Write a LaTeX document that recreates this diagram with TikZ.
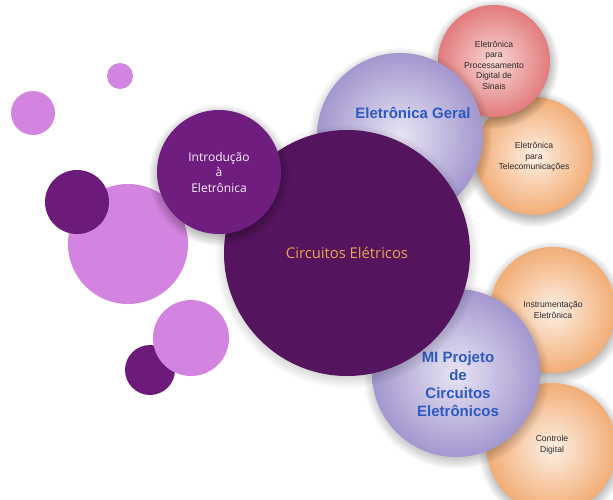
\documentclass[tikz,border=0pt]{standalone}
\usepackage{fontspec}
\setmainfont{Liberation Sans}
\newfontfamily\roundfont{Open Sans}
\usetikzlibrary{fadings}

\definecolor{lilac}{HTML}{D384E0}
\definecolor{plum}{HTML}{6C1B7B}
\definecolor{deepplum}{HTML}{55145E}
\definecolor{introplum}{HTML}{701D80}
\definecolor{lavedge}{HTML}{A397CF}
\definecolor{lavcore}{HTML}{E8E4F3}
\definecolor{rosedge}{HTML}{E27B7E}
\definecolor{roscore}{HTML}{F8D8D4}
\definecolor{peachedge}{HTML}{F2AD76}
\definecolor{peachcore}{HTML}{FDF0E4}
\definecolor{gerblue}{HTML}{2B5AC5}
\definecolor{amber}{HTML}{E9A44C}
\definecolor{inktext}{HTML}{2E2A2A}

% soft shadow under a bubble: centre x, centre y, radius
\newcommand\bubbleshade[3]{%
  \fill[black, opacity=0.32, path fading=circle with fuzzy edge 20 percent]
    (#1,#2+3) circle ({#3+9});}

\tikzset{
  bubble/.style={circle, inner sep=0pt, align=center, minimum size=#1},
  lilacdot/.style={bubble=#1, fill=lilac},
  plumdot/.style={bubble=#1, fill=plum},
  lavball/.style={bubble=#1, inner color=lavcore, outer color=lavedge},
  roseball/.style={bubble=#1, inner color=roscore, outer color=rosedge},
  peachball/.style={bubble=#1, inner color=peachcore, outer color=peachedge},
  bigtitle/.style={align=center, text=gerblue, font=\bfseries\fontsize{15}{17.8}\selectfont},
  smalltext/.style={align=center, text=inktext, font=\fontsize{8.6}{10.5}\selectfont}
}

\begin{document}
\begin{tikzpicture}[x=1pt, y=-1pt]
\useasboundingbox (0,0) rectangle (613,500);

% loose dots on the left
\node[lilacdot=26pt]  (d1) at (120,76)  {};
\node[lilacdot=44pt]  (d2) at (33,113)  {};
\node[lilacdot=120pt] (d3) at (128,244) {};
\node[plumdot=64pt]   (d4) at (77,202)  {};
\node[plumdot=50pt]   (d5) at (150,370) {};
\node[lilacdot=76pt]  (d6) at (191,338) {};

% upper cluster
\bubbleshade{534}{156}{59}
\node[peachball=118pt] (telecom) at (534,156) {};
\node[smalltext] (telecomtxt) at (534,157) {Eletrônica\\para\\Telecomunicações};
\bubbleshade{494}{61}{56}
\node[roseball=112pt] (pds) at (494,61) {};
\node[smalltext] (pdstxt) at (494,65)
  {Eletrônica\\para\\Processamento\\Digital de\\Sinais};
\bubbleshade{400}{136}{83}
\node[lavball=166pt] (geral) at (400,136) {};
\node[bigtitle] (geraltxt) at (413,113) {Eletrônica Geral};

% lower cluster
\bubbleshade{553}{310}{63}
\node[peachball=126pt] (instr) at (553,310) {};
\node[smalltext] (instrtxt) at (553,310) {Instrumentação\\Eletrônica};
\bubbleshade{552}{448}{65}
\node[peachball=130pt] (ctrl) at (552,448) {};
\node[smalltext] (ctrltxt) at (552,445) {Controle\\Digital};
\bubbleshade{456}{373}{84}
\node[lavball=168pt] (mi) at (456,373) {};
\node[bigtitle] (mitxt) at (458,384) {MI Projeto\\de\\Circuitos\\Eletrônicos};

% center
\bubbleshade{347}{253}{123}
\node[bubble=246pt, fill=deepplum, text=amber,
      font=\roundfont\fontsize{14.8}{17}\selectfont] (circ) at (347,253)
  {Circuitos Elétricos};
\bubbleshade{219}{172}{62}
\node[bubble=124pt, fill=introplum, text=white!88!lilac,
      font=\roundfont\fontsize{12}{15.5}\selectfont] (intro) at (219,172)
  {Introdução\\à\\Eletrônica};
\end{tikzpicture}
\end{document}
